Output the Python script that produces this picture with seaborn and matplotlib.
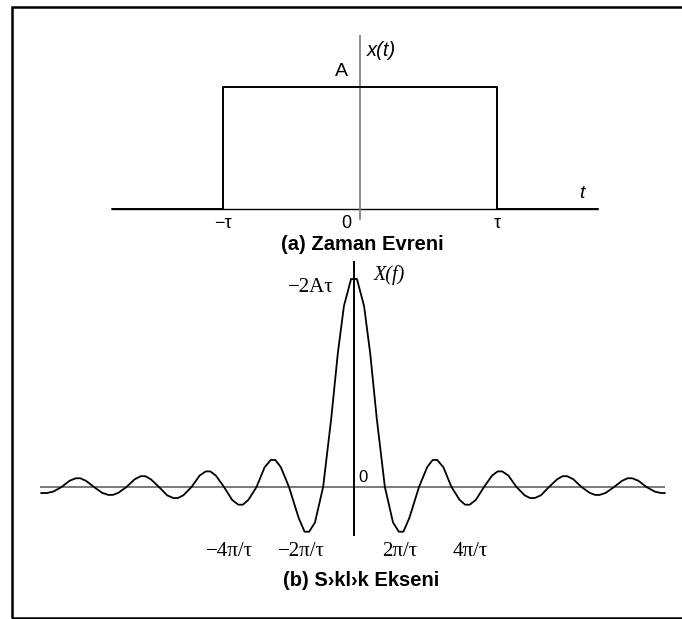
import matplotlib
matplotlib.use("Agg")
import matplotlib.pyplot as plt
import seaborn as sns
import pandas as pd
from matplotlib.patches import Rectangle

# ---- data ----
# (a) time domain rectangular pulse, t in units of tau, amplitude A = 1
pulse_t = [-1.81, -1.0, -1.0, 1.0, 1.0, 1.74]
pulse_x = [0.0, 0.0, 1.0, 1.0, 0.0, 0.0]
time_ticks = [-1.0, 0.0, 1.0]
time_tick_labels = ["\u2212\u03c4", "0", "\u03c4"]

# (b) frequency spectrum, f in units of pi/tau, value normalised to peak
spec_f = [-9.63, -9.45, -9.25, -9.00, -8.75, -8.56, -8.42, -8.25, -8.00, -7.75,
          -7.56, -7.42, -7.25, -7.00, -6.75, -6.56, -6.42, -6.25, -6.00, -5.75,
          -5.56, -5.42, -5.25, -5.00, -4.75, -4.56, -4.42, -4.25, -4.00, -3.75,
          -3.56, -3.42, -3.25, -3.00, -2.75, -2.56, -2.42, -2.25, -2.00, -1.70,
          -1.52, -1.38, -1.20, -0.95, -0.70, -0.50, -0.31, -0.09,
          0.09, 0.31, 0.50, 0.70, 0.95, 1.20, 1.38, 1.52, 1.70, 2.00,
          2.25, 2.42, 2.56, 2.75, 3.00, 3.25, 3.42, 3.56, 3.75, 4.00,
          4.25, 4.42, 4.56, 4.75, 5.00, 5.25, 5.42, 5.56, 5.75, 6.00,
          6.25, 6.42, 6.56, 6.75, 7.00, 7.25, 7.42, 7.56, 7.75, 8.00,
          8.25, 8.42, 8.56, 8.75, 9.00, 9.25, 9.45, 9.57]
spec_X = [-0.029, -0.029, -0.022, 0.000, 0.030, 0.042, 0.042, 0.030, 0.000, -0.028,
          -0.038, -0.038, -0.028, 0.000, 0.037, 0.052, 0.052, 0.037, 0.000, -0.040,
          -0.053, -0.053, -0.040, 0.000, 0.055, 0.075, 0.075, 0.055, 0.000, -0.062,
          -0.085, -0.085, -0.062, 0.000, 0.095, 0.130, 0.130, 0.095, 0.000, -0.150,
          -0.215, -0.215, -0.170, 0.000, 0.330, 0.640, 0.870, 1.000,
          1.000, 0.870, 0.640, 0.330, 0.000, -0.170, -0.215, -0.215, -0.150, 0.000,
          0.095, 0.130, 0.130, 0.095, 0.000, -0.062, -0.085, -0.085, -0.062, 0.000,
          0.055, 0.075, 0.075, 0.055, 0.000, -0.040, -0.053, -0.053, -0.040, 0.000,
          0.037, 0.052, 0.052, 0.037, 0.000, -0.028, -0.038, -0.038, -0.028, 0.000,
          0.030, 0.042, 0.042, 0.030, 0.000, -0.022, -0.029, -0.029]
freq_tick_pos = [-3.82, -1.63, 1.42, 3.57]
freq_tick_labels = ["\u22124\u03c0/\u03c4", "\u22122\u03c0/\u03c4", "2\u03c0/\u03c4", "4\u03c0/\u03c4"]

title_a = "(a) Zaman Evreni"
title_b = "(b) S\u203akl\u203ak Ekseni"

sns.set_style("white")
plt.rcParams["font.family"] = ["Liberation Sans", "DejaVu Sans"]
plt.rcParams["text.color"] = "black"

SERIF = ["Liberation Serif", "DejaVu Serif"]
W, H = 682, 619
fig = plt.figure(figsize=(W / 100, H / 100), dpi=100)

def px_axes(x0, y0, x1, y1):
    return fig.add_axes([x0 / W, 1 - y1 / H, (x1 - x0) / W, (y1 - y0) / H])

# ---- top axes ----
ax1 = px_axes(100, 30, 610, 225)
ax1.set_xlim((100 - 360) / 137, (610 - 360) / 137)
ax1.set_ylim(-(225 - 209) / 122, (209 - 30) / 122)
ax1.axis("off")
ax1.hlines(0, -1.81, 1.74, color="black", lw=1.0)
ax1.vlines(0, -0.09, 1.43, color="#7a7a7a", lw=1.2)
df_a = pd.DataFrame({"t": pulse_t, "x": pulse_x})
sns.lineplot(data=df_a, x="t", y="x", sort=False, estimator=None,
             color="black", lw=1.4, ax=ax1)
for p, lab in zip(time_ticks, time_tick_labels):
    ax1.text(p - (0.1 if p == 0 else 0), -0.115, lab, ha="center", va="center",
             fontsize=13)
ax1.text(0.16, 1.30, "x(t)", style="italic", ha="center", va="center", fontsize=14.5)
ax1.text(-0.139, 1.13, "A", ha="center", va="center", fontsize=14)
ax1.text(1.62, 0.13, "t", style="italic", ha="center", va="center", fontsize=14)

fig.text(362 / W, 1 - 244 / H, title_a, ha="center", va="center",
         fontsize=14.5, fontweight="bold")

# ---- bottom axes ----
ax2 = px_axes(30, 255, 675, 545)
ax2.set_xlim((30 - 354) / 32.5, (675 - 354) / 32.5)
ax2.set_ylim(-(545 - 487) / 208, (487 - 255) / 208)
ax2.axis("off")
ax2.hlines(0, -9.66, 9.57, color="#7a7a7a", lw=1.4)
ax2.vlines(0, -0.236, 1.087, color="black", lw=1.4)
df_b = pd.DataFrame({"f": spec_f, "X": spec_X})
sns.lineplot(data=df_b, x="f", y="X", sort=False, estimator=None,
             color="black", lw=1.3, ax=ax2)
for p, lab in zip(freq_tick_pos, freq_tick_labels):
    ax2.text(p, -0.3125, lab, ha="center", va="center", fontsize=15,
             family=SERIF, clip_on=False)
ax2.text(-1.32, 0.96, "\u22122A\u03c4", ha="center", va="center", fontsize=15,
         family=SERIF)
ax2.text(1.08, 1.02, "X(f)", ha="center", va="center", fontsize=14.5, style="italic",
         family=SERIF)
ax2.text(0.28, 0.048, "0", ha="center", va="center", fontsize=12)

fig.text(361 / W, 1 - 581 / H, title_b, ha="center", va="center",
         fontsize=14.5, fontweight="bold")

# ---- frame (open on the right) ----
fig.add_artist(Rectangle((12 / W, 1 - 618 / H), 700 / W, 611 / H,
                         transform=fig.transFigure, fill=False,
                         edgecolor="black", lw=1.8, clip_on=False))

fig.savefig("out.png", dpi=100)
